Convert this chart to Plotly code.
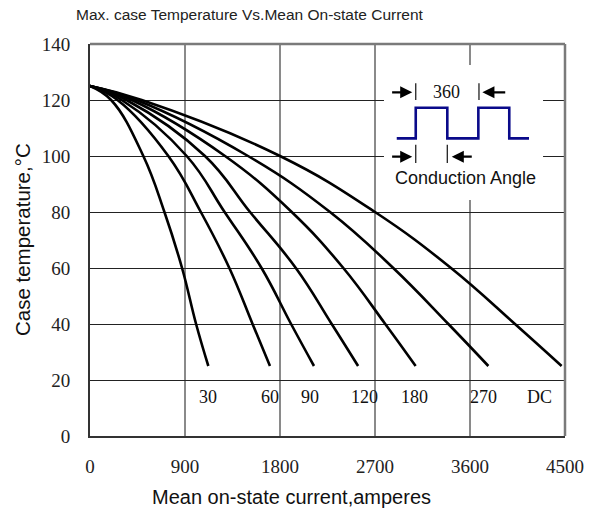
import plotly.graph_objects as go

# ---- data ----
temps = [125, 120, 100, 80, 60, 40, 25]          # case temperature points (°C)
i_30 = [0, 200, 505, 705, 872, 1005, 1121]
i_60 = [0, 260, 742, 1050, 1320, 1540, 1705]
i_90 = [0, 300, 916, 1275, 1625, 1905, 2122]
i_120 = [0, 345, 1089, 1516, 1950, 2290, 2540]
i_180 = [0, 395, 1279, 1911, 2400, 2797, 3085]
i_270 = [0, 440, 1497, 2274, 2873, 3395, 3774]
i_dc = [0, 490, 1800, 2700, 3420, 4026, 4468]
curve_labels = ["30", "60", "90", "120", "180", "270", "DC"]
label_x = [1121, 1705, 2084, 2596, 3073, 3726, 4257]
label_y = 14
x_ticks = [0, 900, 1800, 2700, 3600, 4500]
y_ticks = [0, 20, 40, 60, 80, 100, 120, 140]

# inset (conduction angle diagram)
wave_x = [2906, 3086, 3086, 3385, 3385, 3679, 3679, 3972, 3972, 4159]
wave_y = [106.3, 106.3, 117.25, 117.25, 106.3, 106.3, 117.25, 117.25, 106.3, 106.3]

curves = [i_30, i_60, i_90, i_120, i_180, i_270, i_dc]

fig = go.Figure()
for name, cur in zip(curve_labels, curves):
    fig.add_trace(go.Scatter(x=cur, y=temps, mode="lines", name=name,
                             line=dict(color="black", width=2.6, shape="spline", smoothing=1.2),
                             hoverinfo="skip", showlegend=False))

fig.add_trace(go.Scatter(x=wave_x, y=wave_y, mode="lines",
                         line=dict(color="#0a0a8a", width=2.6),
                         hoverinfo="skip", showlegend=False))

serif = "Liberation Serif, Times New Roman, serif"
sans = "Liberation Sans, Arial, sans-serif"

annotations = []
for lx, lt in zip(label_x, curve_labels):
    annotations.append(dict(x=lx, y=label_y, xref="x", yref="y", text=lt, showarrow=False,
                            font=dict(family=serif, size=18, color="#111")))

# inset arrows
def arrow(tip, tail, yv):
    return dict(x=tip, y=yv, ax=tail, ay=yv, xref="x", yref="y", axref="x", ayref="y",
                text="", showarrow=True, arrowhead=2, arrowsize=1.1, arrowwidth=2.2,
                arrowcolor="black")

annotations += [
    arrow(3053, 2848, 122.75),
    arrow(3717, 3948, 122.75),
    arrow(3053, 2848, 99.75),
    arrow(3427, 3631, 99.75),
    dict(x=3379, y=122.9, xref="x", yref="y", text="360", showarrow=False,
         font=dict(family=serif, size=18, color="#111")),
    dict(x=3560, y=92.3, xref="x", yref="y", text="Conduction Angle", showarrow=False,
         font=dict(family=sans, size=18, color="#111")),
    dict(x=-0.143, y=0.5, xref="paper", yref="paper", xanchor="center", yanchor="middle",
         text="Case temperature,°C",
         textangle=-90, showarrow=False, font=dict(family=sans, size=20.5, color="#111")),
    dict(x=0.425, y=-0.155, xref="paper", yref="paper", xanchor="center", yanchor="middle",
         text="Mean on-state current,amperes",
         showarrow=False, font=dict(family=sans, size=20, color="#111")),
]

shapes = [
    dict(type="rect", xref="x", yref="y", x0=2785, x1=4292, y0=84.3, y1=132.5,
         fillcolor="white", line=dict(width=0), layer="between"),
    dict(type="line", xref="x", yref="y", x0=3086, x1=3086, y0=120, y1=126,
         line=dict(color="#222", width=1.3)),
    dict(type="line", xref="x", yref="y", x0=3685, x1=3685, y0=120, y1=126,
         line=dict(color="#222", width=1.3)),
    dict(type="line", xref="x", yref="y", x0=3086, x1=3086, y0=97.5, y1=104,
         line=dict(color="#222", width=1.3)),
    dict(type="line", xref="x", yref="y", x0=3385, x1=3385, y0=97.5, y1=104,
         line=dict(color="#222", width=1.3)),
    # top and right frame (gray)
    dict(type="line", xref="paper", yref="paper", x0=0, x1=1, y0=1, y1=1,
         line=dict(color="#7a7a7a", width=2.5), layer="above"),
    dict(type="line", xref="paper", yref="paper", x0=1, x1=1, y0=0, y1=1,
         line=dict(color="#7a7a7a", width=2.5), layer="above"),
]

fig.update_layout(
    width=597, height=512,
    margin=dict(l=90, r=32, t=44, b=76),
    paper_bgcolor="white", plot_bgcolor="white",
    title=dict(text="Max. case Temperature Vs.Mean On-state Current",
               x=76 / 597, xanchor="left", xref="container",
               y=1 - 15 / 512, yanchor="middle", yref="container",
               font=dict(family=sans, size=15.5, color="#222")),
    annotations=annotations, shapes=shapes,
)
fig.update_xaxes(range=[0, 4500], tickvals=x_ticks, ticktext=[str(v) for v in x_ticks],
                 showgrid=True, gridcolor="#8a8a8a", gridwidth=1.5,
                 showline=True, linecolor="#333", linewidth=2, mirror=False,
                 ticks="", zeroline=False, ticklabelstandoff=12,
                 tickfont=dict(family=serif, size=19, color="#222"))
fig.update_yaxes(range=[0, 140], tickvals=y_ticks, ticktext=[str(v) for v in y_ticks],
                 showgrid=True, gridcolor="#222", gridwidth=1,
                 showline=True, linecolor="#333", linewidth=2, mirror=False,
                 ticks="", zeroline=False, ticklabelstandoff=14,
                 tickfont=dict(family=serif, size=19, color="#222"))

fig.write_html("out.html")
